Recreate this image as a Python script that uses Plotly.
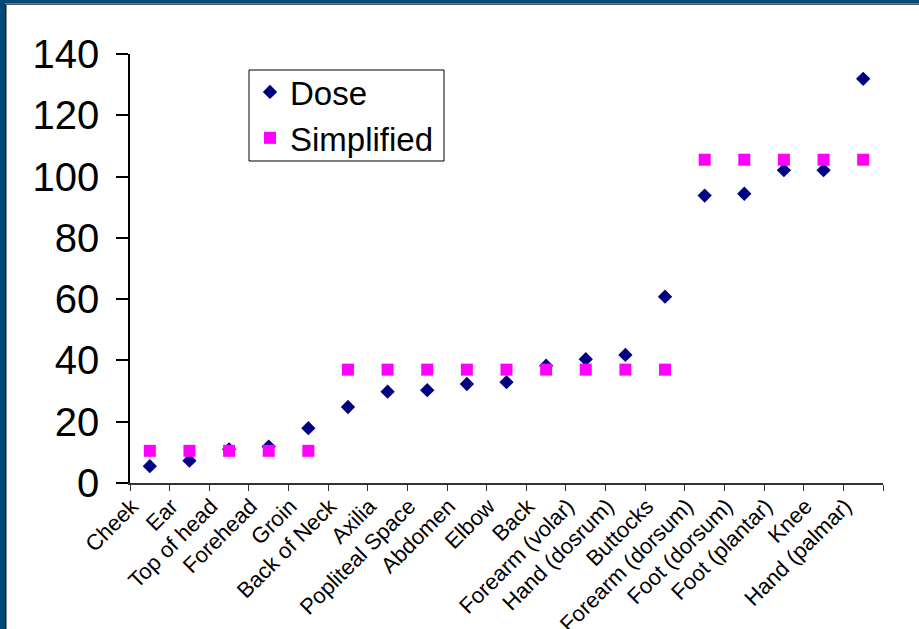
import plotly.graph_objects as go

categories = ["Cheek", "Ear", "Top of head", "Forehead", "Groin", "Back of Neck",
              "Axilia", "Popliteal Space", "Abdomen", "Elbow", "Back",
              "Forearm (volar)", "Hand (dosrum)", "Buttocks", "Forearm (dorsum)",
              "Foot (dorsum)", "Foot (plantar)", "Knee", "Hand (palmar)"]
dose = [5.5, 7.3, 11.0, 11.9, 17.9, 24.8, 29.8, 30.3, 32.3, 32.9, 38.3,
        40.4, 41.8, 60.8, 93.8, 94.4, 102.1, 102.1, 131.9]
simplified = [10.5, 10.5, 10.5, 10.5, 10.5, 37, 37, 37, 37, 37, 37, 37, 37, 37,
              105.5, 105.5, 105.5, 105.5, 105.5]
y_ticks = [0, 20, 40, 60, 80, 100, 120, 140]

FONT = "Liberation Sans, Arial, sans-serif"
W, H = 919, 629
L, R, T, B = 130, 36, 54, 146
pw, ph = W - L - R, H - T - B

def px(x):
    return (x - L) / pw

def py(y):
    return (H - B - y) / ph

fig = go.Figure()
fig.add_trace(go.Scatter(x=categories, y=dose, mode="markers", name="Dose",
                         legendgroup="a",
                         marker=dict(symbol="diamond", size=11, color="#000080")))
fig.add_trace(go.Scatter(x=categories, y=simplified, mode="markers", name="Simplified",
                         legendgroup="b",
                         marker=dict(symbol="square", size=12, color="#FF00FF")))

shapes = [
    # frame
    dict(type="rect", xref="paper", yref="paper", x0=px(0), x1=px(5), y0=py(H), y1=py(0),
         fillcolor="#004a75", line=dict(width=0), layer="above"),
    dict(type="rect", xref="paper", yref="paper", x0=px(5), x1=px(6.5), y0=py(H), y1=py(4),
         fillcolor="#1a1a1a", line=dict(width=0), layer="above"),
    dict(type="rect", xref="paper", yref="paper", x0=px(0), x1=px(W), y0=py(3.5), y1=py(0),
         fillcolor="#004a75", line=dict(width=0), layer="above"),
    dict(type="rect", xref="paper", yref="paper", x0=px(5), x1=px(W), y0=py(5), y1=py(3.5),
         fillcolor="#555555", line=dict(width=0), layer="above"),
    # legend box
    dict(type="rect", xref="paper", yref="paper", x0=px(249), x1=px(444), y0=py(161), y1=py(70),
         fillcolor="white", line=dict(width=1, color="black"), layer="above"),
]

fig.update_layout(
    width=W, height=H,
    margin=dict(l=L, r=R, t=T, b=B, autoexpand=False),
    paper_bgcolor="white", plot_bgcolor="white",
    font=dict(family=FONT, color="black"),
    showlegend=True,
    legend=dict(x=px(250), y=py(64), xanchor="left", yanchor="top",
                bgcolor="rgba(0,0,0,0)", borderwidth=0,
                font=dict(size=33, family=FONT, color="black"),
                traceorder="grouped", tracegroupgap=0,
                itemwidth=30),
    shapes=shapes,
)
fig.update_xaxes(
    type="category", categoryorder="array", categoryarray=categories,
    range=[-0.5, len(categories) - 0.5],
    automargin=False,
    showline=True, linecolor="#333333", linewidth=1.5,
    ticks="outside", tickson="boundaries", ticklen=6, tickcolor="#333333",
    tickangle=-45, tickfont=dict(size=22, family=FONT, color="black"),
    ticklabelshift=-18,
    showgrid=False, zeroline=False,
)
fig.update_yaxes(
    range=[0, 140], tickvals=y_ticks,
    automargin=False,
    showline=True, linecolor="black", linewidth=1.5,
    ticks="outside", ticklen=12, tickcolor="black", tickwidth=1.5,
    tickfont=dict(size=40, family=FONT, color="black"),
    ticklabelstandoff=9,
    showgrid=False, zeroline=False,
)

fig.write_html("out.html", config={"displayModeBar": False},
               post_script="document.body.style.margin='0';document.body.style.overflow='hidden';")
